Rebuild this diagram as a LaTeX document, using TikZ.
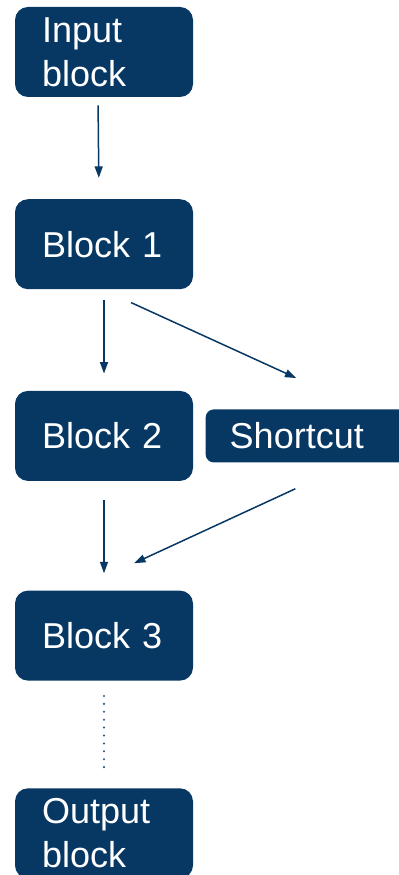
\documentclass[tikz,border=0pt]{standalone}
\usepackage{fontspec}
\setmainfont{Liberation Sans}
\usetikzlibrary{arrows.meta,positioning,calc}
\definecolor{blockblue}{RGB}{7,55,99}

\begin{document}
\begin{tikzpicture}[node distance=2.02cm,
    block/.style={fill=blockblue,rounded corners=2.6mm,minimum width=3.56cm,minimum height=1.8cm,text width=2.48cm,inner xsep=0.54cm,inner ysep=0pt,align=left,text=white,font=\fontsize{20.5}{25}\selectfont},
    shortbox/.style={fill=blockblue,rounded corners=1.6mm,minimum height=1.06cm,text width=3.24cm,inner xsep=0.48cm,inner ysep=0pt,align=left,text=white,font=\fontsize{20.5}{25}\selectfont},
    link/.style={-{Triangle[length=6.5pt,width=4.5pt]},line width=0.85pt,blockblue}]
    \useasboundingbox (0,0) rectangle (7.98,-17.5);
    \node[block] (input) at (2.08,-1.04) {Input\\block};
    \node[block,below=2.03cm of input] (block1) {Block 1};
    \node[block,below=of block1] (block2) {Block 2};
    \node[shortbox,right=0.24cm of block2] (shortcut) {Shortcut};
    \node[block,below=2.18cm of block2] (block3) {Block 3};
    \node[block,below=2.14cm of block3] (output) {Output\\block};
    \draw[link,shorten <=1.6mm,shorten >=4.2mm] ([xshift=-1.2mm]input.south) -- ([xshift=-1mm]block1.north);
    \draw[link,shorten <=2mm,shorten >=3.4mm] (block1.south) -- (block2.north);
    \draw[link] ($(block1.south)+(0.54,-0.26)$) -- ($(shortcut.north west)+(1.82,0.62)$);
    \draw[link,shorten <=3.8mm,shorten >=3.4mm] (block2.south) -- (block3.north);
    \draw[link] ($(shortcut.south west)+(1.8,-0.52)$) -- ($(block3.north)+(0.6,0.54)$);
    \draw[blockblue!85,line width=1.3pt,line cap=round,dash pattern=on 0pt off 4.5pt,shorten <=3mm,shorten >=3.8mm] (block3.south) -- (output.north);
  \end{tikzpicture}
\end{document}
